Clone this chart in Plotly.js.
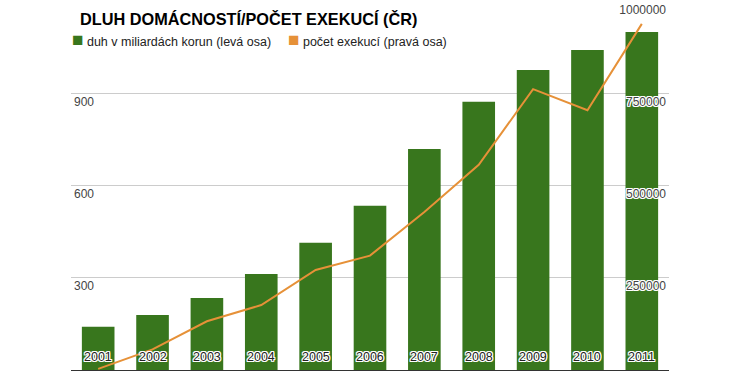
<!DOCTYPE html>
<html>
<head>
<meta charset="utf-8">
<script src="https://cdn.plot.ly/plotly-3.0.1.min.js"></script>
<style>html,body{margin:0;padding:0;background:#fff;}#chart{width:742px;height:371px;}</style>
</head>
<body>
<div id="chart"></div>
<script>
const years = ["2001","2002","2003","2004","2005","2006","2007","2008","2009","2010","2011"];
const debtBillions = [141, 179, 234, 312, 414, 534, 719, 872, 976, 1041, 1099];
const executions = [3000, 56000, 132000, 176000, 271000, 310000, 428000, 556000, 761000, 704000, 938000];
const leftTicks = [300, 600, 900];
const rightTicks = [250000, 500000, 750000, 1000000];
const titleText = "DLUH DOMÁCNOSTÍ/POČET EXEKUCÍ (ČR)";
const debtName = "duh v miliardách korun (levá osa)";
const execName = "počet exekucí (pravá osa)";

const green = "#38761d", orange = "#e69138";
const FONT = "Liberation Sans, Arial, sans-serif";
const outline = "1px 0 0 #fff, -1px 0 0 #fff, 0 1px 0 #fff, 0 -1px 0 #fff, 1px 1px 0 #fff, -1px -1px 0 #fff, 1px -1px 0 #fff, -1px 1px 0 #fff";

const W = 742, H = 371, ML = 71, MR = 73, MT = 1, MB = 1;
const pw = W - ML - MR, ph = H - MT - MB;

const traces = [
  {type: "bar", x: years, y: debtBillions, name: debtName, marker: {color: green}, yaxis: "y", showlegend: false},
  {type: "scatter", mode: "lines", x: years, y: executions, name: execName, line: {color: orange, width: 2}, yaxis: "y2", showlegend: false}
];

// year labels drawn inside the plot at the baseline, like the original
const yearLabels = years.map((yr, i) => ({
  x: i, y: 0, xref: "x", yref: "y", text: yr, showarrow: false,
  xanchor: "center", yanchor: "bottom", yshift: 4,
  font: {family: FONT, size: 12.5, color: "#222", shadow: outline}
}));

function legendEntry(color, label, px) {
  return {
    xref: "paper", yref: "paper", x: (px - ML) / pw, y: (H - MB - 39) / ph, xanchor: "left", yanchor: "middle",
    showarrow: false,
    text: "<span style='color:" + color + ";font-size:19px'>■</span> " + label,
    font: {family: FONT, size: 12.5, color: "#222"}
  };
}

const layout = {
  width: W, height: H,
  margin: {l: ML, r: MR, t: MT, b: MB, pad: 0, autoexpand: false},
  paper_bgcolor: "#fff", plot_bgcolor: "#fff",
  font: {family: FONT, size: 12, color: "#222"},
  title: {text: titleText, x: 80/W, xanchor: "left", xref: "container", y: 1 - 19/H, yanchor: "middle", yref: "container",
          font: {family: FONT, size: 16.3, color: "#000", weight: "bold"}},
  showlegend: false,
  bargap: 0.4,
  xaxis: {type: "category", range: [-0.5, 10.5], showgrid: false, zeroline: false, showline: true, linecolor: "#333", linewidth: 1,
          ticks: "", showticklabels: false, fixedrange: true},
  yaxis: {range: [0, 1200], tickvals: leftTicks, ticktext: leftTicks.map(String), showgrid: true, gridcolor: "#ccc", gridwidth: 1,
          zeroline: false, showline: false, ticks: "", ticklabelposition: "inside bottom",
          tickfont: {family: FONT, size: 12, color: "#444", shadow: outline}},
  yaxis2: {overlaying: "y", side: "right", range: [0, 1000000], tickvals: rightTicks, ticktext: rightTicks.map(String), showgrid: false,
           zeroline: false, showline: false, ticks: "", ticklabelposition: "inside bottom",
           tickfont: {family: FONT, size: 12, color: "#444", shadow: outline}},
  annotations: yearLabels.concat([legendEntry(green, debtName, 70), legendEntry(orange, execName, 286)])
};

Plotly.newPlot("chart", traces, layout, {displayModeBar: false, staticPlot: true});
</script>
</body>
</html>
